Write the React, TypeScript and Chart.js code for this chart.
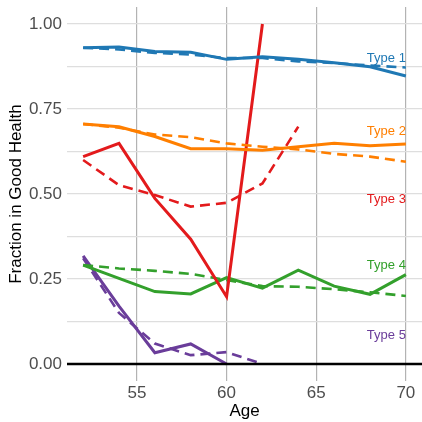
import React, { useEffect, useRef } from "react";
import { Chart, registerables } from "chart.js";

Chart.register(...registerables);

const ages = [52, 54, 56, 58, 60, 62, 64, 66, 68, 70];
const typeNames = ["Type 1", "Type 2", "Type 3", "Type 4", "Type 5"];
const typeColors = ["#1f78b4", "#ff7f00", "#e31a1c", "#33a02c", "#6a3d9a"];
const labelValues = [0.9, 0.685, 0.485, 0.29, 0.085];

const type1Solid = [0.93, 0.932, 0.919, 0.917, 0.896, 0.904, 0.896, 0.886, 0.874, 0.847];
const type1Dashed = [0.93, 0.925, 0.915, 0.91, 0.9, 0.9, 0.89, 0.885, 0.878, 0.872];
const type2Solid = [0.706, 0.698, 0.669, 0.633, 0.633, 0.629, 0.639, 0.649, 0.642, 0.647];
const type2Dashed = [0.706, 0.695, 0.675, 0.667, 0.649, 0.639, 0.631, 0.618, 0.61, 0.595];
const type3Solid = [0.61, 0.649, 0.487, 0.367, 0.198, 1.0, null, null, null, null];
const type3Dashed = [0.6, 0.526, 0.497, 0.463, 0.474, 0.531, 0.698, null, null, null];
const type4Solid = [0.291, 0.252, 0.213, 0.206, 0.254, 0.223, 0.276, 0.229, 0.205, 0.263];
const type4Dashed = [0.291, 0.281, 0.274, 0.265, 0.247, 0.229, 0.227, 0.22, 0.211, 0.2];
const type5Solid = [0.318, 0.17, 0.033, 0.059, 0.0, null, null, null, null, null];
const type5Dashed = [0.311, 0.15, 0.06, 0.026, 0.035, 0.0, null, null, null, null];

const xTicks = [55, 60, 65, 70];
const yTicks = [0, 0.125, 0.25, 0.375, 0.5, 0.625, 0.75, 0.875, 1.0];

const solidSeries = [type1Solid, type2Solid, type3Solid, type4Solid, type5Solid];
const dashedSeries = [type1Dashed, type2Dashed, type3Dashed, type4Dashed, type5Dashed];

const FONT = "'Liberation Sans', Arial, Helvetica, sans-serif";

function toPoints(vals: (number | null)[]) {
  const pts: { x: number; y: number }[] = [];
  vals.forEach((v, i) => {
    if (v !== null) pts.push({ x: ages[i], y: v });
  });
  return pts;
}

const overlayPlugin = {
  id: "overlay",
  afterDatasetsDraw(chart: any) {
    const { ctx, chartArea, scales } = chart;
    const xs = scales.x;
    const ys = scales.y;
    ctx.save();
    ctx.strokeStyle = "#000000";
    ctx.lineWidth = 2.5;
    ctx.beginPath();
    const y0 = ys.getPixelForValue(0);
    ctx.moveTo(chartArea.left, y0);
    ctx.lineTo(chartArea.right, y0);
    ctx.stroke();
    ctx.font = `13px ${FONT}`;
    ctx.textAlign = "right";
    ctx.textBaseline = "middle";
    typeNames.forEach((name, i) => {
      ctx.fillStyle = typeColors[i];
      ctx.fillText(name, xs.getPixelForValue(70), ys.getPixelForValue(labelValues[i]));
    });
    ctx.restore();
  },
};

export default function App() {
  const canvasRef = useRef<HTMLCanvasElement | null>(null);

  useEffect(() => {
    if (!canvasRef.current) return;
    const datasets: any[] = [];
    for (let i = 0; i < 5; i++) {
      datasets.push({
        label: typeNames[i] + " model",
        data: toPoints(dashedSeries[i]),
        borderColor: typeColors[i],
        borderWidth: 2.6,
        borderDash: [10, 6],
        pointRadius: 0,
        fill: false,
        tension: 0,
      });
      datasets.push({
        label: typeNames[i],
        data: toPoints(solidSeries[i]),
        borderColor: typeColors[i],
        borderWidth: 3,
        pointRadius: 0,
        fill: false,
        tension: 0,
      });
    }
    const chart = new Chart(canvasRef.current, {
      type: "line",
      data: { datasets },
      options: {
        responsive: false,
        animation: false,
        maintainAspectRatio: false,
        layout: { padding: { top: 7, right: 0, left: 0, bottom: 0 } },
        plugins: { legend: { display: false }, tooltip: { enabled: false } },
        scales: {
          x: {
            type: "linear",
            min: 51.1,
            max: 70.9,
            afterBuildTicks: (scale: any) => {
              scale.ticks = xTicks.map((v) => ({ value: v }));
            },
            afterFit: (scale: any) => {
              scale.height = 41;
              scale.paddingLeft = 0;
              scale.paddingRight = 0;
            },
            border: { display: false },
            grid: { color: "#b3b3b3", lineWidth: 1.2, drawTicks: false },
            ticks: {
              color: "#4d4d4d",
              font: { size: 17, family: FONT },
              padding: 2,
              maxRotation: 0,
              callback: (v: any) => String(v),
            },
            title: {
              display: true,
              text: "Age",
              color: "#000000",
              font: { size: 17, family: FONT },
              padding: { top: 0, bottom: 0 },
            },
          },
          y: {
            type: "linear",
            min: -0.05,
            max: 1.05,
            afterBuildTicks: (scale: any) => {
              scale.ticks = yTicks.map((v) => ({ value: v }));
            },
            afterFit: (scale: any) => {
              scale.width = 67;
              scale.paddingTop = 0;
              scale.paddingBottom = 0;
            },
            border: { display: false },
            grid: { color: "#dedede", lineWidth: 1.2, drawTicks: false },
            ticks: {
              color: "#4d4d4d",
              font: { size: 17, family: FONT },
              padding: 5,
              callback: (v: any) => (Math.abs(v * 4 - Math.round(v * 4)) < 1e-9 ? Number(v).toFixed(2) : ""),
            },
            title: {
              display: true,
              text: "Fraction in Good Health",
              color: "#000000",
              font: { size: 17, family: FONT },
              padding: { top: 6, bottom: 0 },
            },
          },
        },
      },
      plugins: [overlayPlugin],
    } as any);
    return () => chart.destroy();
  }, []);

  return (
    <div style={{ position: "absolute", left: 0, top: 0, width: 422, height: 422, background: "#ffffff" }}>
      <canvas ref={canvasRef} width={422} height={422} style={{ width: 422, height: 422, display: "block" }} />
    </div>
  );
}
